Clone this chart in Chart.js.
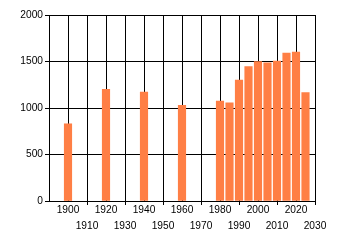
<!DOCTYPE html>
<html>
<head>
<meta charset="utf-8">
<script src="https://cdn.jsdelivr.net/npm/chart.js@4/dist/chart.umd.min.js"></script>
<style>
  html, body { margin: 0; padding: 0; background: #ffffff; }
  #c { display: block; }
</style>
</head>
<body>
<canvas id="c" width="340" height="245"></canvas>
<script>
const years = [1900, 1920, 1940, 1960, 1980, 1985, 1990, 1995, 2000, 2005, 2010, 2015, 2020, 2025];
const values = [830, 1200, 1170, 1030, 1075, 1055, 1300, 1445, 1500, 1485, 1505, 1590, 1600, 1165];
const yTicks = [0, 500, 1000, 1500, 2000];
const xMin = 1890, xMax = 2030, xStep = 10;

const FONT = { family: '"Liberation Sans", Arial, sans-serif', size: 10.2, lineHeight: 16 / 10.2 };

new Chart(document.getElementById('c'), {
  type: 'bar',
  data: {
    datasets: [{
      data: years.map((yr, i) => ({ x: yr, y: values[i] })),
      backgroundColor: '#FF7F45',
      borderWidth: 0,
      barThickness: 7.5
    }]
  },
  options: {
    responsive: false,
    animation: false,
    layout: { padding: { top: 15, right: 25, left: 0, bottom: 0 } },
    plugins: { legend: { display: false }, tooltip: { enabled: false } },
    scales: {
      x: {
        type: 'linear',
        min: xMin, max: xMax,
        offset: false,
        grid: {
          offset: false,
          color: '#000000',
          lineWidth: 1,
          tickLength: 4,
          tickColor: (ctx) => {
            const v = ctx.tick ? ctx.tick.value : 0;
            return (Math.round(v / 10) % 2 === 1 && v !== xMin) ? '#000000' : 'rgba(0,0,0,0)';
          }
        },
        border: { color: '#000000', width: 1 },
        ticks: {
          stepSize: xStep,
          autoSkip: false,
          maxRotation: 0,
          minRotation: 0,
          padding: -3,
          color: '#000000',
          font: FONT,
          callback: (v) => {
            if (v === xMin) return '';
            return (Math.round(v / 10) % 2 === 0) ? [String(v)] : ['', String(v)];
          }
        },
        afterFit: (s) => { s.height = 44; }
      },
      y: {
        min: yTicks[0], max: yTicks[yTicks.length - 1],
        grid: { color: '#000000', lineWidth: 1, tickLength: 4, tickColor: '#000000' },
        border: { color: '#000000', width: 1 },
        afterBuildTicks: (s) => { s.ticks = yTicks.map(v => ({ value: v })); },
        ticks: {
          padding: 2,
          color: '#000000',
          font: FONT,
          callback: (v) => String(v)
        },
        afterFit: (s) => { s.width = 49; }
      }
    }
  }
});
</script>
</body>
</html>
